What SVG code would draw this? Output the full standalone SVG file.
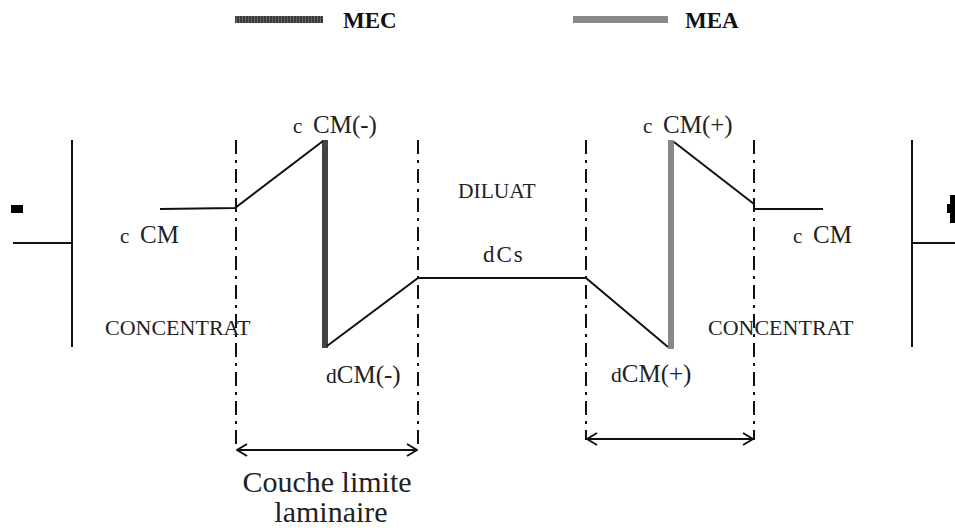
<svg xmlns="http://www.w3.org/2000/svg" width="955" height="528" viewBox="0 0 955 528">
<defs>
<style>
.ln{stroke:#111;stroke-width:2;fill:none}
.dd{stroke:#111;stroke-width:2;fill:none;stroke-dasharray:14 6 3 6}
text{font-family:'Liberation Serif','DejaVu Serif',serif;fill:#222}
.lg{font-weight:bold;font-size:23px;fill:#111}
.sm{font-size:21px}
.big{font-size:25px}
.mid{font-size:21.5px}
.cap{font-size:22px}
</style>
<pattern id="hatch" width="3" height="8" patternUnits="userSpaceOnUse">
<rect width="3" height="8" fill="#3a3a3a"/>
<rect x="2" width="1" height="8" fill="#666"/>
</pattern>
<marker id="ah" viewBox="0 0 12 14" refX="11" refY="7" markerWidth="12" markerHeight="14" markerUnits="userSpaceOnUse" orient="auto-start-reverse">
<path d="M1,1 L11,7 L1,13" fill="none" stroke="#111" stroke-width="2"/>
</marker>
</defs>
<rect width="955" height="528" fill="#fff"/>

<g id="legend">
<rect x="235" y="16" width="88" height="7" fill="url(#hatch)"/>
<text class="lg" x="343" y="28">MEC</text>
<rect x="573" y="16" width="95" height="7" fill="#888"/>
<text class="lg" x="685" y="28">MEA</text>
</g>

<g id="electrode-neg">
<line class="ln" x1="72" y1="140" x2="72" y2="347"/>
<line class="ln" x1="13" y1="243" x2="72" y2="243"/>
<rect x="11" y="205" width="12" height="8" fill="#000"/>
</g>

<g id="electrode-pos">
<line class="ln" x1="912" y1="140" x2="912" y2="347"/>
<line class="ln" x1="912" y1="243" x2="955" y2="243"/>
<rect x="947" y="204" width="8" height="9" fill="#000"/>
<rect x="950" y="195" width="5" height="28" fill="#000"/>
</g>

<g id="boundaries">
<line class="dd" x1="236" y1="140" x2="236" y2="448"/>
<line class="dd" x1="418" y1="140" x2="418" y2="448"/>
<line class="dd" x1="586" y1="140" x2="586" y2="440"/>
<line class="dd" x1="754" y1="140" x2="754" y2="440"/>
</g>

<g id="membrane-mec">
<rect x="322" y="140" width="6" height="208" fill="#444"/>
</g>
<g id="membrane-mea">
<rect x="668" y="140" width="6" height="209" fill="#888"/>
</g>

<g id="connectors">
<polyline class="ln" points="160,209 235,208 323,141"/>
<polyline class="ln" points="327,346 418,278 586,278 668,347"/>
<polyline class="ln" points="674,142 754,204"/>
<line class="ln" x1="754" y1="209" x2="823" y2="209"/>
<line class="ln" x1="237" y1="450" x2="417" y2="450" marker-start="url(#ah)" marker-end="url(#ah)"/>
<line class="ln" x1="587" y1="439" x2="753" y2="439" marker-start="url(#ah)" marker-end="url(#ah)"/>
</g>

<g id="labels">
<text x="293" y="133"><tspan class="sm">c</tspan><tspan class="big" x="313">CM(-)</tspan></text>
<text x="643" y="133"><tspan class="sm">c</tspan><tspan class="big" x="663">CM(+)</tspan></text>
<text x="120" y="243"><tspan class="sm">c</tspan><tspan class="big" x="140">CM</tspan></text>
<text x="793" y="243"><tspan class="sm">c</tspan><tspan class="big" x="813">CM</tspan></text>
<text class="mid" x="458" y="198">DILUAT</text>
<text x="483" y="262" font-size="23" letter-spacing="2">dCs</text>
<text class="cap" x="105" y="335">CONCENTRAT</text>
<text class="cap" x="708" y="335">CONCENTRAT</text>
<text x="326" y="383"><tspan class="mid">d</tspan><tspan class="big">CM(-)</tspan></text>
<text x="611" y="382"><tspan class="mid">d</tspan><tspan class="big">CM(+)</tspan></text>
<text x="327" y="492" text-anchor="middle" font-size="30">Couche limite</text>
<text x="331" y="522" text-anchor="middle" font-size="30">laminaire</text>
</g>
</svg>
